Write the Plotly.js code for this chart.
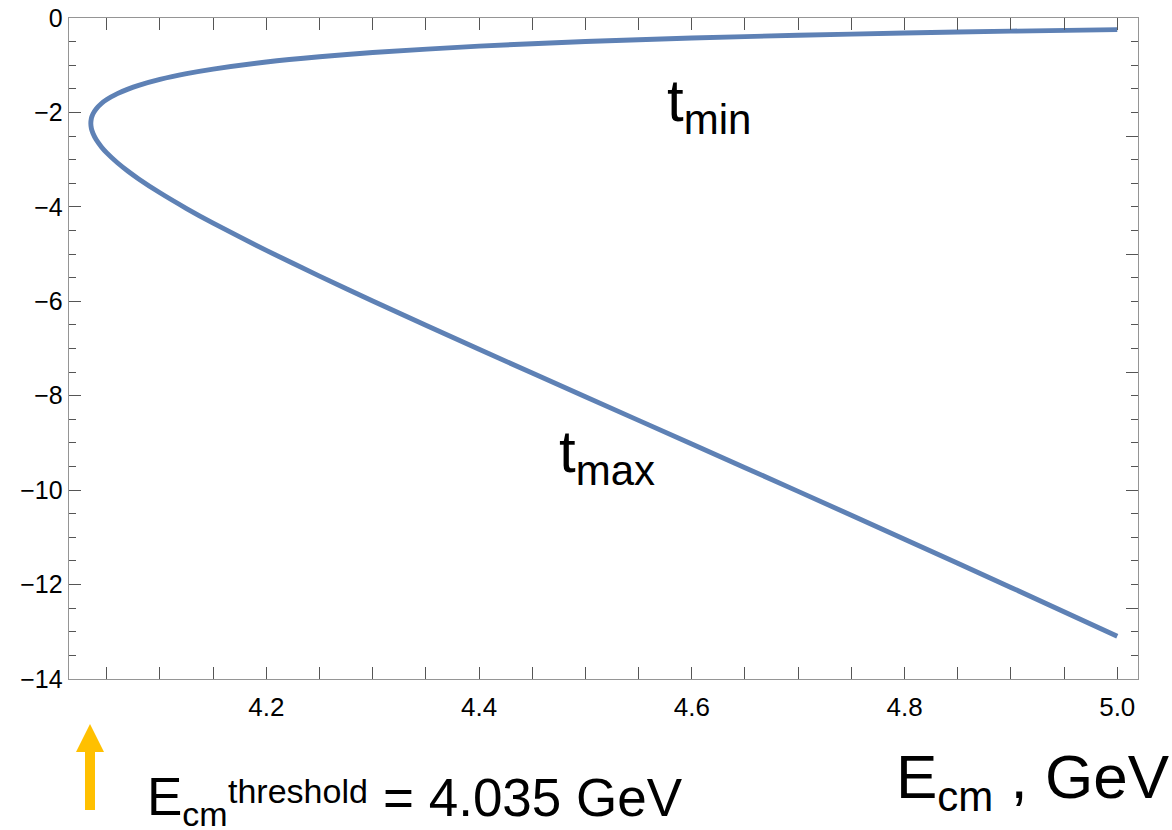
<!DOCTYPE html>
<html><head><meta charset="utf-8">
<script src="https://cdn.plot.ly/plotly-3.0.1.min.js"></script>
<style>html,body{margin:0;padding:0;background:#fff;}#chart{width:1172px;height:830px;}</style>
</head><body><div id="chart"></div>
<script>
// Centre-of-mass energy (GeV) and the two kinematic limits of t (GeV^2)
const energy = [4.035, 4.0355, 4.036, 4.037, 4.04, 4.045, 4.05, 4.06, 4.07, 4.08, 4.10, 4.125, 4.15, 4.2, 4.25, 4.3, 4.4, 4.5, 4.6, 4.7, 4.8, 4.9, 5.0];
const tMin = [-2.230, -2.129, -2.089, -2.033, -1.926, -1.811, -1.727, -1.602, -1.506, -1.427, -1.301, -1.179, -1.082, -0.932, -0.820, -0.730, -0.596, -0.498, -0.424, -0.365, -0.318, -0.279, -0.247];
const tMax = [-2.230, -2.334, -2.379, -2.443, -2.575, -2.731, -2.857, -3.066, -3.246, -3.408, -3.702, -4.035, -4.345, -4.922, -5.467, -5.994, -7.017, -8.022, -9.023, -10.026, -11.038, -12.060, -13.095];

const labelTmin = 't<sub>min</sub>';
const labelTmax = 't<sub>max</sub>';
const labelThresholdBase = 'E<sub><span style="font-size:34px">cm</span></sub>';
const labelThresholdSup = 'threshold';
const labelThresholdValue = '= 4.035 GeV';
const labelXAxis = 'E<sub><span style="font-size:42px">cm</span></sub> , GeV';

// one continuous curve: upper branch (t_min) back to threshold, then lower branch (t_max)
const curveX = energy.slice().reverse().concat(energy.slice(1));
const curveY = tMin.slice().reverse().concat(tMax.slice(1));

const W = 1172, H = 830;
const M = {l: 69, r: 34, t: 18, b: 151};
const pw = W - M.l - M.r, ph = H - M.t - M.b;
const px = X => (X - M.l) / pw;
const py = Y => (H - M.b - Y) / ph;

const FONT = 'Liberation Sans, Arial, Helvetica, sans-serif';
const frameColor = '#959595';
const tickColor = '#555555';
const lineColor = '#5E81B5';

const data = [
  {x: curveX, y: curveY, type: 'scatter', mode: 'lines',
   line: {color: lineColor, width: 4.9, shape: 'spline', smoothing: 0.6},
   hoverinfo: 'x+y', xaxis: 'x', yaxis: 'y'},
  {x: curveX, y: curveY, type: 'scatter', mode: 'lines',
   line: {color: 'rgba(0,0,0,0)', width: 0}, hoverinfo: 'skip', xaxis: 'x', yaxis: 'y2'}
];

const arrowPath = [
  'M', px(90), py(724),
  'L', px(104), py(752),
  'L', px(95), py(752),
  'L', px(95), py(810),
  'L', px(85), py(810),
  'L', px(85), py(752),
  'L', px(76), py(752), 'Z'
].join(' ');

const ann = (text, X, Y, size, xanchor) => ({
  text: text, xref: 'paper', yref: 'paper', x: px(X), y: py(Y),
  xanchor: xanchor || 'left', yanchor: 'top', showarrow: false,
  font: {family: FONT, size: size, color: '#000'}
});

const tickFontX = {family: FONT, size: 26, color: '#000'};
const tickFontY = {family: FONT, size: 25, color: '#000'};

const layout = {
  width: W, height: H,
  margin: {l: M.l, r: M.r, t: M.t, b: M.b, pad: 0},
  paper_bgcolor: '#ffffff', plot_bgcolor: '#ffffff',
  showlegend: false,
  font: {family: FONT, color: '#000', size: 25},
  xaxis: {
    range: [4.0145, 5.0195], tick0: 0, dtick: 0.2, tickformat: '.1f',
    ticks: 'inside', ticklen: 12, tickwidth: 1, tickcolor: tickColor,
    showline: true, linecolor: frameColor, linewidth: 1.3, mirror: 'allticks',
    showgrid: false, zeroline: false, ticklabelstandoff: 4,
    tickfont: tickFontX,
    minor: {dtick: 0.05, ticks: 'inside', ticklen: 7, tickwidth: 1, tickcolor: tickColor, showgrid: false}
  },
  yaxis: {
    range: [-14, 0], tick0: 0, dtick: 2,
    ticks: 'inside', ticklen: 12, tickwidth: 1, tickcolor: tickColor,
    showline: true, linecolor: frameColor, linewidth: 1.3, mirror: false,
    showgrid: false, zeroline: false,
    tickfont: tickFontY,
    minor: {dtick: 0.5, ticks: 'inside', ticklen: 7, tickwidth: 1, tickcolor: tickColor, showgrid: false}
  },
  yaxis2: {
    overlaying: 'y', side: 'right', range: [-14, 0], tick0: 0, dtick: 2.5,
    ticks: 'inside', ticklen: 12, tickwidth: 1, tickcolor: tickColor,
    showline: true, linecolor: frameColor, linewidth: 1.3,
    showgrid: false, zeroline: false, showticklabels: false,
    minor: {dtick: 0.5, ticks: 'inside', ticklen: 7, tickwidth: 1, tickcolor: tickColor, showgrid: false}
  },
  shapes: [
    {type: 'path', xref: 'paper', yref: 'paper', path: arrowPath,
     fillcolor: '#FFC000', line: {width: 0}}
  ],
  annotations: [
    ann(labelTmin, 665, 65, 60),
    ann(labelTmax, 557, 416, 60),
    ann(labelThresholdBase, 145, 765, 53),
    ann(labelThresholdSup, 226, 770, 34),
    ann(labelThresholdValue, 381, 766, 53),
    ann(labelXAxis, 1172, 740, 62, 'right')
  ]
};

Plotly.newPlot('chart', data, layout, {displayModeBar: false, staticPlot: true});
</script>
</body></html>
